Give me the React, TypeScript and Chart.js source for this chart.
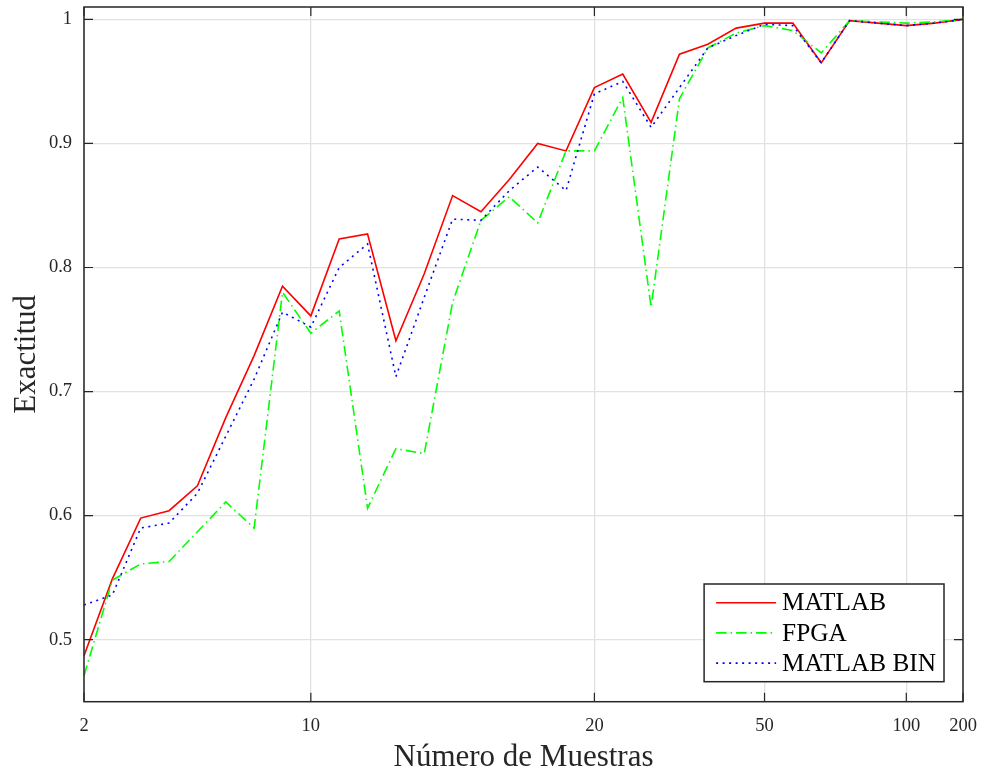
import React, { useEffect, useRef } from 'react';
import { Chart, registerables } from 'chart.js';

Chart.register(...registerables);

// Number of samples for each measurement point
const samples = [
  2, 3, 4, 5, 6, 7, 8, 9, 10, 11, 12, 13, 14, 15, 16, 17, 18, 19, 20,
  25, 30, 35, 40, 45, 50, 60, 70, 80, 90, 100, 150, 200,
];

// Sample counts that get a labelled tick on the x axis
const xTickValues = [2, 10, 20, 50, 100, 200];
const yTicks = [0.5, 0.6, 0.7, 0.8, 0.9, 1];

const matlab = [
  0.487, 0.549, 0.598, 0.604, 0.624, 0.679, 0.729, 0.785, 0.761, 0.823,
  0.827, 0.741, 0.795, 0.858, 0.845, 0.871, 0.9, 0.894, 0.945, 0.956,
  0.917, 0.972, 0.98, 0.993, 0.997, 0.997, 0.965, 0.999, 0.997, 0.995,
  0.997, 1.0,
];

const fpga = [
  0.471, 0.548, 0.561, 0.563, 0.587, 0.611, 0.59, 0.78, 0.747, 0.765,
  0.606, 0.654, 0.65, 0.772, 0.838, 0.857, 0.836, 0.894, 0.894, 0.937,
  0.768, 0.936, 0.977, 0.989, 0.995, 0.991, 0.973, 0.999, 0.998, 0.997,
  0.998, 1.0,
];

const matlabBin = [
  0.528, 0.536, 0.59, 0.594, 0.618, 0.664, 0.71, 0.764, 0.752, 0.8,
  0.819, 0.712, 0.776, 0.839, 0.838, 0.862, 0.881, 0.862, 0.94, 0.95,
  0.913, 0.945, 0.977, 0.987, 0.996, 0.995, 0.965, 0.999, 0.997, 0.995,
  0.997, 1.0,
];

const AXIS_COLOR = '#262626';
const GRID_COLOR = '#e2e2e2';
const FONT = '"Liberation Serif", "Times New Roman", serif';

const W = 983;
const H = 776;

// Draws the boxed axes with inward ticks on all four sides and the
// legend in the lower-right corner of the plot area.
const frameAndLegend = {
  id: 'frameAndLegend',
  afterDraw(chart: any) {
    const { ctx, chartArea: a, scales } = chart;
    const xs = scales.x;
    const ys = scales.y;
    const len = 9;
    ctx.save();

    ctx.strokeStyle = AXIS_COLOR;
    ctx.lineWidth = 1.2;
    ctx.setLineDash([]);
    ctx.beginPath();
    xs.ticks.forEach((t: any) => {
      const px = xs.getPixelForValue(t.value);
      ctx.moveTo(px, a.bottom);
      ctx.lineTo(px, a.bottom - len);
      ctx.moveTo(px, a.top);
      ctx.lineTo(px, a.top + len);
    });
    ys.ticks.forEach((t: any) => {
      const py = ys.getPixelForValue(t.value);
      ctx.moveTo(a.left, py);
      ctx.lineTo(a.left + len, py);
      ctx.moveTo(a.right, py);
      ctx.lineTo(a.right - len, py);
    });
    ctx.stroke();

    ctx.lineWidth = 1.5;
    ctx.strokeRect(a.left, a.top, a.right - a.left, a.bottom - a.top);

    // legend
    const fontSize = 25.3;
    ctx.font = `${fontSize}px ${FONT}`;
    const datasets = chart.data.datasets;
    const textW = Math.max(
      ...datasets.map((d: any) => ctx.measureText(d.label).width)
    );
    const rowH = 30.2;
    const boxW = 78 + textW + 8;
    const boxH = 97.7;
    const boxRight = a.right - 19;
    const boxBottom = a.bottom - 20;
    const bx = boxRight - boxW;
    const by = boxBottom - boxH;

    ctx.fillStyle = '#ffffff';
    ctx.fillRect(bx, by, boxW, boxH);
    ctx.strokeStyle = AXIS_COLOR;
    ctx.lineWidth = 1.5;
    ctx.strokeRect(bx, by, boxW, boxH);

    datasets.forEach((d: any, i: number) => {
      const cy = by + 18.7 + i * rowH;
      ctx.save();
      ctx.strokeStyle = d.borderColor;
      ctx.lineWidth = d.borderWidth;
      ctx.setLineDash(d.borderDash || []);
      ctx.beginPath();
      ctx.moveTo(bx + 12, cy);
      ctx.lineTo(bx + 72, cy);
      ctx.stroke();
      ctx.restore();

      ctx.fillStyle = '#000000';
      ctx.textAlign = 'left';
      ctx.textBaseline = 'middle';
      ctx.fillText(d.label, bx + 78, cy + 1);
    });

    ctx.restore();
  },
};

export default function App() {
  const canvasRef = useRef<HTMLCanvasElement | null>(null);

  useEffect(() => {
    const canvas = canvasRef.current;
    if (!canvas) return;

    const chart = new Chart(canvas, {
      type: 'line',
      data: {
        labels: samples.map(String),
        datasets: [
          {
            label: 'MATLAB',
            data: matlab,
            borderColor: '#ff0000',
            borderWidth: 1.6,
            borderDash: [],
            pointRadius: 0,
            tension: 0,
            order: 3,
          },
          {
            label: 'FPGA',
            data: fpga,
            borderColor: '#00ff00',
            borderWidth: 1.6,
            borderDash: [10.5, 4, 1.5, 4],
            pointRadius: 0,
            tension: 0,
            order: 2,
          },
          {
            label: 'MATLAB BIN',
            data: matlabBin,
            borderColor: '#0000ff',
            borderWidth: 1.6,
            borderDash: [2, 4.5],
            pointRadius: 0,
            tension: 0,
            order: 1,
          },
        ],
      },
      options: {
        responsive: false,
        animation: false,
        devicePixelRatio: 1,
        layout: { padding: { left: 0, top: 7, right: 20, bottom: 0 } },
        plugins: {
          legend: { display: false },
          tooltip: { enabled: false },
        },
        scales: {
          x: {
            type: 'category',
            offset: false,
            afterFit(scale: any) {
              scale.height = H - 701.7;
              scale.paddingLeft = 0;
              scale.paddingRight = 0;
            },
            afterBuildTicks(scale: any) {
              scale.ticks = scale.ticks.filter((t: any) =>
                xTickValues.includes(samples[t.value])
              );
            },
            grid: {
              color: GRID_COLOR,
              lineWidth: 1.3,
              drawTicks: false,
            },
            border: { display: false },
            ticks: {
              autoSkip: false,
              maxRotation: 0,
              minRotation: 0,
              padding: 13,
              color: AXIS_COLOR,
              font: { family: FONT, size: 18.5 },
            },
            title: {
              display: true,
              text: 'Número de Muestras',
              color: AXIS_COLOR,
              font: { family: FONT, size: 31 },
              padding: { top: 0, bottom: 0 },
            },
          },
          y: {
            type: 'linear',
            min: 0.45,
            max: 1.01,
            afterFit(scale: any) {
              scale.width = 84;
              scale.paddingTop = 0;
              scale.paddingBottom = 0;
            },
            afterBuildTicks(scale: any) {
              scale.ticks = yTicks.map((v) => ({ value: v }));
            },
            grid: {
              color: GRID_COLOR,
              lineWidth: 1.3,
              drawTicks: false,
            },
            border: { display: false },
            ticks: {
              padding: 12,
              color: AXIS_COLOR,
              font: { family: FONT, size: 18.5 },
              callback: (v: any) => String(Number(Number(v).toFixed(1))),
            },
            title: {
              display: true,
              text: 'Exactitud',
              color: AXIS_COLOR,
              font: { family: FONT, size: 31 },
              padding: { top: 8, bottom: 0 },
            },
          },
        },
      },
      plugins: [frameAndLegend],
    });

    return () => chart.destroy();
  }, []);

  return (
    <div
      style={{
        position: 'absolute',
        left: 0,
        top: 0,
        width: W,
        height: H,
        background: '#ffffff',
      }}
    >
      <canvas
        ref={canvasRef}
        width={W}
        height={H}
        style={{ display: 'block', width: W, height: H }}
      />
    </div>
  );
}
